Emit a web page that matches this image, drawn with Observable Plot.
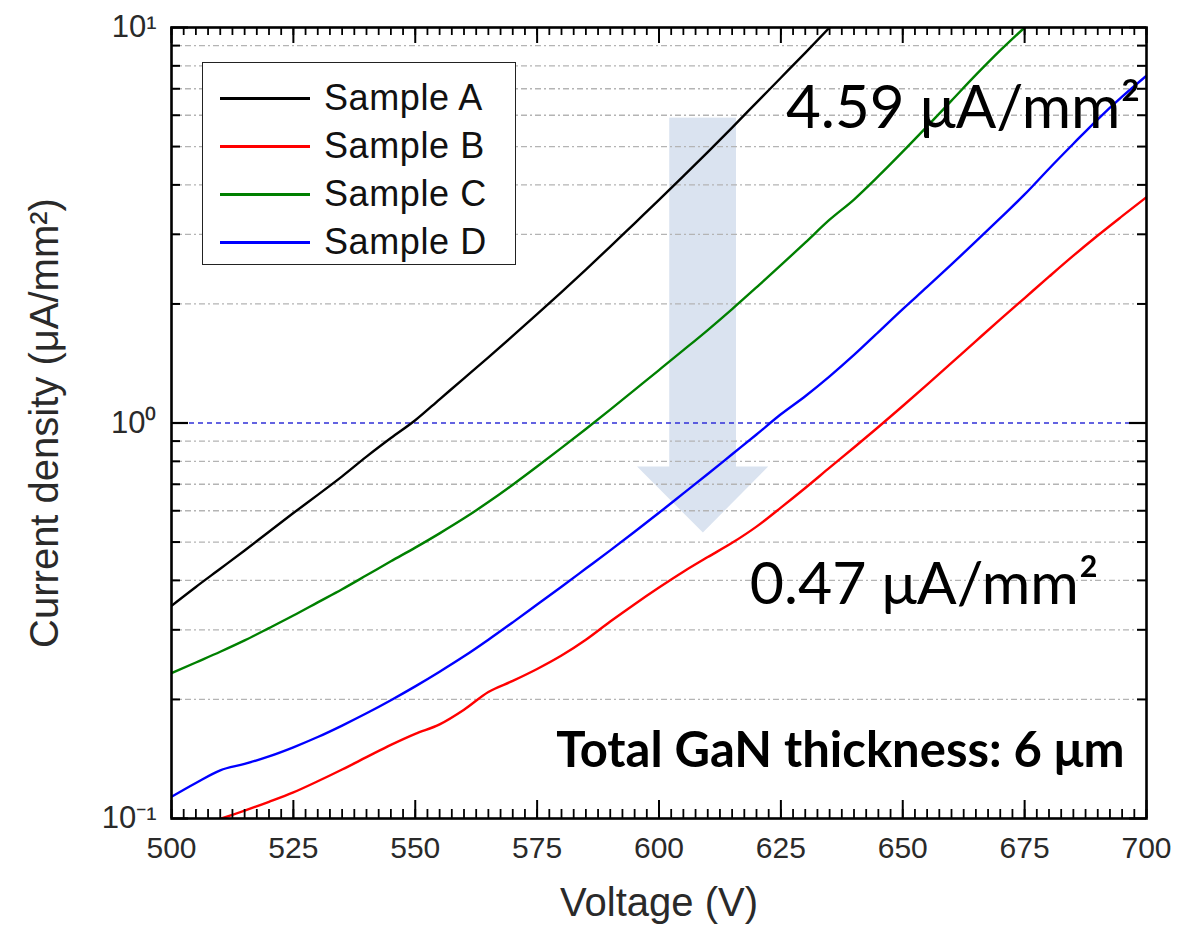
<!DOCTYPE html>
<html>
<head>
<meta charset="utf-8">
<script src="https://cdn.jsdelivr.net/npm/d3@7"></script>
<script src="https://cdn.jsdelivr.net/npm/@observablehq/plot@0.6"></script>
<style>
  html, body { margin: 0; padding: 0; background: #fff; }
  #wrap { position: relative; width: 1188px; height: 930px; overflow: hidden; }
  #legend { position: absolute; left: 202px; top: 62px; width: 312px; height: 201px;
            border: 1.5px solid #222; background: #fff;
            font-family: "Liberation Sans", Arial, sans-serif; font-size: 36px; color: #111; }
  #legend .row { position: absolute; left: 0; height: 40px; display: flex; align-items: center; }
  #legend .sw { width: 90px; height: 0; border-top: 3px solid #000; margin-left: 17px; margin-right: 14px; }
  #legend .lab { letter-spacing: 0.6px; }
</style>
</head>
<body>
<div id="wrap"><div id="chart"></div><div id="legend"></div></div>
<script>
// ---------------- data ----------------
const seriesNames = ["Sample A", "Sample B", "Sample C", "Sample D"];
const seriesColors = ["#000000", "#ff0000", "#008000", "#0000ff"];

const voltA = [500,505,510,515,520,525,530,535,540,545,550,555,560,565,570,575,580,585,590,595,600,605,610,615,620,625,630,635];
const densA = [0.345,0.385,0.428,0.476,0.531,0.592,0.658,0.733,0.822,0.916,1.016,1.148,1.297,1.466,1.66,1.884,2.143,2.443,2.793,3.199,3.664,4.207,4.842,5.585,6.457,7.464,8.63,10.0];

const voltB = [509,515,520,525,530,535,540,545,550,555,560,565,570,575,580,585,590,595,600,605,610,615,620,625,630,635,640,645,650,655,660,665,670,675,680,685,690,695,700];
const densB = [0.0989,0.1047,0.1102,0.1164,0.1242,0.133,0.1429,0.1535,0.1637,0.173,0.1884,0.2089,0.2228,0.2388,0.2582,0.2831,0.3148,0.3483,0.3837,0.4207,0.4581,0.4977,0.547,0.611,0.685,0.771,0.867,0.977,1.104,1.25,1.419,1.611,1.828,2.07,2.344,2.649,2.979,3.334,3.724];

const voltC = [500,505,510,515,520,525,530,535,540,545,550,555,560,565,570,575,580,585,590,595,600,605,610,615,620,625,630,635,640,645,650,655,660,665,670,675];
const densC = [0.233,0.248,0.264,0.282,0.303,0.326,0.352,0.38,0.412,0.447,0.484,0.526,0.574,0.631,0.698,0.776,0.865,0.966,1.081,1.213,1.361,1.528,1.718,1.941,2.203,2.506,2.858,3.266,3.673,4.207,4.853,5.623,6.531,7.586,8.75,10.0];

const voltD = [500,505,510,515,520,525,530,535,540,545,550,555,560,565,570,575,580,585,590,595,600,605,610,615,620,625,630,635,640,645,650,655,660,665,670,675,680,685,690,695,700];
const densD = [0.1135,0.123,0.1324,0.1374,0.1436,0.1514,0.1607,0.1718,0.1845,0.1991,0.2158,0.235,0.257,0.2831,0.3133,0.3475,0.3855,0.4285,0.4764,0.5309,0.5929,0.6637,0.743,0.8337,0.9354,1.052,1.169,1.312,1.486,1.698,1.941,2.208,2.518,2.877,3.296,3.784,4.395,5.082,5.861,6.683,7.551];

const xTickLabels = [500, 525, 550, 575, 600, 625, 650, 675, 700];
const yTickValues = [0.1, 1, 10];
const yTickLabels = ["10\u207B\u00B9", "10\u2070", "10\u00B9"];
const yMinorValues = [0.2,0.3,0.4,0.5,0.6,0.7,0.8,0.9,2,3,4,5,6,7,8,9];

const annotTop = "4.59 \u03BCA/mm\u00B2";
const annotBottom = "0.47 \u03BCA/mm\u00B2";
const annotNote = "Total GaN thickness: 6 \u03BCm";
const xLabel = "Voltage (V)";
const yLabel = "Current density (\u03BCA/mm\u00B2)";

// arrow annotation (in data units: voltage, current density)
const arrowShaft = [{v1: 602.2, v2: 615.9, j1: 0.77, j2: 5.9}];
const arrowHead = [{v: 595.6, j1: 0.774, j2: 0.774}, {v: 609.1, j1: 0.774, j2: 0.527}, {v: 622.5, j1: 0.774, j2: 0.774}];

// ---------------- build ----------------
const volts = [voltA, voltB, voltC, voltD];
const dens = [densA, densB, densC, densD];
const rows = [];
seriesNames.forEach((s, i) => volts[i].forEach((v, k) => rows.push({s, v, j: dens[i][k]})));

const W = 1188, H = 930, mL = 171, mR = 42, mT = 27, mB = 112;
const fw = W - mL - mR, fh = H - mT - mB;
const xMinor = d3.range(500, 700.01, 2.5);
const font = "'Liberation Sans', Arial, sans-serif";
const cal = "Lato, 'Open Sans', sans-serif";

const chart = Plot.plot({
  width: W, height: H,
  marginLeft: mL, marginRight: mR, marginTop: mT, marginBottom: mB,
  style: {background: "transparent", fontFamily: font},
  x: {domain: [500, 700], axis: null},
  y: {type: "log", domain: [0.1, 10], axis: null},
  marks: [
    Plot.rect(arrowShaft, {x1: "v1", x2: "v2", y1: "j1", y2: "j2", fill: "#dae3f0"}),
    Plot.areaY(arrowHead, {x: "v", y1: "j1", y2: "j2", fill: "#dae3f0"}),
    Plot.ruleY(yMinorValues, {stroke: "#b4b4b4", strokeWidth: 1.3, strokeDasharray: "6,3,2,3"}),
    Plot.ruleY([1], {stroke: "#3030d8", strokeWidth: 1.3, strokeDasharray: "5,4"}),
    ...seriesNames.map((s, i) => Plot.line(rows.filter(r => r.s === s), {
      x: "v", y: "j", stroke: seriesColors[i], strokeWidth: 2.4, curve: "monotone-x", clip: true
    })),
    // inward ticks
    Plot.tickX(xMinor, {x: d => d, insetTop: fh - 9, stroke: "#000", strokeWidth: 1.8}),
    Plot.tickX(xTickLabels, {x: d => d, insetTop: fh - 18, stroke: "#000", strokeWidth: 2}),
    Plot.tickX(xMinor, {x: d => d, insetBottom: fh - 8, stroke: "#000", strokeWidth: 1.8}),
    Plot.tickX(xTickLabels, {x: d => d, insetBottom: fh - 16, stroke: "#000", strokeWidth: 2}),
    Plot.tickY(yMinorValues, {y: d => d, insetRight: fw - 9, stroke: "#000", strokeWidth: 2}),
    Plot.tickY(yTickValues, {y: d => d, insetRight: fw - 17, stroke: "#000", strokeWidth: 2.2}),
    Plot.tickY(yMinorValues, {y: d => d, insetLeft: fw - 9, stroke: "#000", strokeWidth: 2}),
    Plot.tickY(yTickValues, {y: d => d, insetLeft: fw - 17, stroke: "#000", strokeWidth: 2.2}),
    Plot.frame({stroke: "#000", strokeWidth: 2.6}),
    // tick labels
    Plot.text(xTickLabels, {x: d => d, frameAnchor: "bottom", lineAnchor: "middle", dy: 30, fontSize: 30, fill: "#2a2a2a"}),
    Plot.text(yTickValues, {y: d => d, text: (d, i) => yTickLabels[i], frameAnchor: "left",
      textAnchor: "end", dx: -15, fontSize: 31, fill: "#2a2a2a"}),
    // axis titles
    Plot.text([xLabel], {frameAnchor: "bottom", lineAnchor: "middle", dy: 85, fontSize: 40, fill: "#2a2a2a"}),
    Plot.text([yLabel], {frameAnchor: "left", textAnchor: "middle", lineAnchor: "middle", rotate: -90, dx: -126, fontSize: 40, fill: "#2a2a2a"}),
    // annotations
    Plot.text([annotTop], {frameAnchor: "top-right", textAnchor: "end", lineAnchor: "middle", dx: -6, dy: 81,
      fontSize: 60, fontFamily: cal, fill: "#000"}),
    Plot.text([annotBottom], {frameAnchor: "right", textAnchor: "end", lineAnchor: "middle", dx: -48, dy: 162,
      fontSize: 59, fontFamily: cal, fill: "#000"}),
    Plot.text([annotNote], {frameAnchor: "bottom-right", textAnchor: "end", lineAnchor: "middle", dx: -22, dy: -67,
      fontSize: 49, fontWeight: "bold", fontFamily: cal, fill: "#000"})
  ]
});
document.getElementById("chart").appendChild(chart);

// legend (HTML overlay)
const leg = document.getElementById("legend");
seriesNames.forEach((s, i) => {
  const row = document.createElement("div");
  row.className = "row";
  row.style.top = (15 + i * 48) + "px";
  const sw = document.createElement("div");
  sw.className = "sw";
  sw.style.borderTopColor = seriesColors[i];
  const lab = document.createElement("span");
  lab.className = "lab";
  lab.textContent = s;
  row.appendChild(sw); row.appendChild(lab);
  leg.appendChild(row);
});
</script>
</body>
</html>
